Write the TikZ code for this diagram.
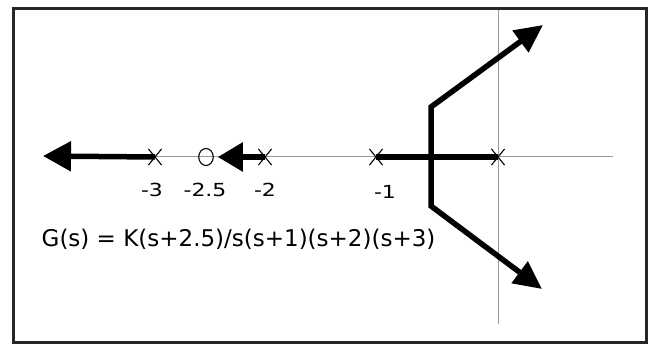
\documentclass[tikz,border=0pt]{standalone}
\usepackage{fontspec}
\setmainfont{DejaVu Sans}
\newfontfamily\tickfont[FakeStretch=1.22]{DejaVu Sans}
\usetikzlibrary{arrows.meta,shapes.misc,shapes.geometric}

\tikzset{
    pole/.style={draw, cross out, line width=1.1pt, minimum width=12pt, minimum height=15pt, inner sep=0pt},
    zero/.style={draw, ellipse, line width=1.1pt, minimum width=14.5pt, minimum height=17pt, inner sep=0pt},
    locus/.style={line width=5.5pt},
    axis/.style={draw=black!40, line width=0.9pt},
    ticklabel/.style={inner sep=0pt, font=\tickfont\fontsize{18}{20}\selectfont},
    bighead/.style={-{Triangle[length=28pt,width=29pt]}}
}

\begin{document}
\begin{tikzpicture}[x=1pt, y=-1pt]
    \useasboundingbox (0,0) rectangle (651,345);

    % axes
    \coordinate (xstart) at (60,156);
    \coordinate (xend) at (613,156);
    \coordinate (ytop) at (498,8);
    \coordinate (ybot) at (498,324);
    \draw [axis] (xstart) -- (xend);
    \draw [axis] (ytop) -- (ybot);

    % poles and zero
    \node [pole] (p3) at (155,157) {};
    \node [zero] (z) at (206,157) {};
    \node [pole] (p2) at (265,157) {};
    \node [pole] (p1) at (376,157) {};
    \node [pole] (p0) at (498,157) {};

    \node [ticklabel] (l3) at (152,190) {-3};
    \node [ticklabel] (lz) at (205,190) {-2.5};
    \node [ticklabel] (l2) at (265,190) {-2};
    \node [ticklabel] (l1) at (385,192) {-1};

    % root locus branches
    \coordinate (tipL) at (43,156);
    \coordinate (top) at (431,107);
    \coordinate (bot) at (431,206);
    \coordinate (tipA) at (543,25);
    \coordinate (tipB) at (542,289);

    \draw [locus, bighead] (p3.center) -- (tipL);
    \draw [locus, -{Triangle[length=25pt,width=28pt]}, shorten >=4pt] (p2.center) -- (z);
    \draw [locus] (p1.center) -- (p0.center);
    \draw [locus, {Triangle[length=28pt,width=26pt]}-{Triangle[length=28pt,width=26pt]}] (tipA) -- (top) -- (bot) -- (tipB);

    \node [anchor=base west, inner sep=0pt, font=\fontsize{23}{26}\selectfont] (gs) at (41.5,246) {G(s) = K(s+2.5)/s(s+1)(s+2)(s+3)};

    % frame
    \draw [line width=3pt, draw=black!85] (13,8.5) rectangle (646,342.5);
\end{tikzpicture}
\end{document}
